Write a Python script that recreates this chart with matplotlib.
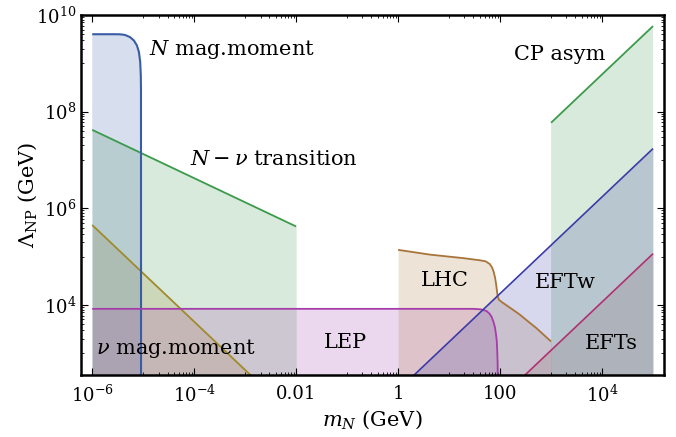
import numpy as np
import matplotlib
matplotlib.use("Agg")
import matplotlib.pyplot as plt
from matplotlib.ticker import FixedLocator, NullFormatter

plt.rcParams['font.family'] = ['DejaVu Serif']
plt.rcParams['mathtext.fontset'] = 'dejavuserif'

# --- bounds (m_N in GeV, Lambda_NP in GeV) ---
nmag_m = [1e-6, 2.5e-6, 3.49e-6, 4.38e-6, 5.48e-6, 6.57e-6, 7.53e-6, 8.24e-6, 8.73e-6, 8.97e-6, 9.05e-6, 9.07e-6]
nmag_L = [4.0e9, 4.0e9, 3.99e9, 3.87e9, 3.5e9, 2.97e9, 2.34e9, 1.72e9, 1.07e9, 5.75e8, 2.8e8, 1e2]

trans_m = [1e-6, 1e-2]
trans_L = [4.2e7, 4.2e5]

numag_m = [1e-6, 1.5e-3]
numag_L = [4.5e5, 3.0e2]

lep_m = [1e-6, 30, 42, 54, 62, 68, 74, 79, 83, 86, 88, 89.5, 90]
lep_L = [8.3e3, 8.3e3, 8.1e3, 7.5e3, 6.6e3, 5.7e3, 4.5e3, 3.5e3, 2.5e3, 1.8e3, 1.1e3, 6e2, 1e2]

lhc_m = [1, 4.2, 19, 40, 52, 63, 70, 75, 80, 84, 87, 90, 95, 110, 134, 180, 244, 350, 518, 720, 1000]
lhc_L = [1.38e5, 1.1e5, 9.3e4, 8.4e4, 8.0e4, 7.0e4, 5.9e4, 4.8e4, 3.6e4, 2.6e4, 1.9e4, 1.5e4, 1.28e4, 1.13e4, 9.8e3, 7.9e3, 6.3e3, 4.6e3, 3.3e3, 2.4e3, 1.75e3]

eftw_m = [1, 1e5]
eftw_L = [1.72e2, 1.72e7]

efts_m = [10, 1e5]
efts_L = [11.5, 1.15e5]

cp_m = [1e3, 1e5]
cp_L = [5.9e7, 5.9e9]

xtick_vals = [1e-6, 1e-4, 1e-2, 1, 1e2, 1e4]
xtick_labels = [r'$10^{-6}$', r'$10^{-4}$', '0.01', '1', '100', r'$10^{4}$']
ytick_vals = [1e4, 1e6, 1e8, 1e10]
ytick_labels = [r'$10^{4}$', r'$10^{6}$', r'$10^{8}$', r'$10^{10}$']

c_nmag = '#3a5ca8'
c_trans = '#3c9a4c'
c_numag = '#a08a2c'
c_lep = '#a43caa'
c_lhc = '#a8743a'
c_eftw = '#3a3aa8'
c_efts = '#b03070'
c_efts_fill = '#8a6a6a'
c_cp = '#3c9a4c'

fig = plt.figure(figsize=(6.76, 4.37), dpi=100)
ax = fig.add_axes([81/676, 1-375/437, (664-81)/676, (375-15)/437])
ax.set_xscale('log')
ax.set_yscale('log')
ax.set_xlim(10**-6.22, 10**5.215)
ax.set_ylim(10**2.55, 1e10)

floor = 1.0
A = 0.2

def band(m, L, line_c, fill_c=None, lw=1.3):
    fill_c = fill_c or line_c
    ax.fill_between(m, floor, L, color=fill_c, alpha=A, lw=0)
    ax.plot(m, L, color=line_c, lw=lw, solid_capstyle='butt', solid_joinstyle='round')

band(trans_m, trans_L, c_trans)
band(numag_m, numag_L, c_numag)
band(nmag_m, nmag_L, c_nmag, lw=1.5)
band(lep_m, lep_L, c_lep)
band(lhc_m, lhc_L, c_lhc)
band(cp_m, cp_L, c_cp)
band(eftw_m, eftw_L, c_eftw, lw=1.2)
band(efts_m, efts_L, c_efts, c_efts_fill, lw=1.2)

fs = 15
ax.text(1.3e-5, 1.9e9, r'$N$ mag.moment', fontsize=fs, ha='left', va='center')
ax.text(8.3e-5, 1.0e7, r'$N-\nu$ transition', fontsize=fs, ha='left', va='center')
ax.text(1.5e3, 1.5e9, 'CP asym', fontsize=fs, ha='center', va='center')
ax.text(8.2, 3.2e4, 'LHC', fontsize=fs, ha='center', va='center')
ax.text(1.9e3, 2.9e4, 'EFTw', fontsize=fs, ha='center', va='center')
ax.text(1.5e4, 1.6e3, 'EFTs', fontsize=fs, ha='center', va='center')
ax.text(0.094, 1.7e3, 'LEP', fontsize=fs, ha='center', va='center')
ax.text(1.2e-6, 1.26e3, r'$\nu$ mag.moment', fontsize=fs, ha='left', va='center')

# ticks
ax.xaxis.set_major_locator(FixedLocator(xtick_vals))
ax.set_xticklabels(xtick_labels)
ax.yaxis.set_major_locator(FixedLocator(ytick_vals))
ax.set_yticklabels(ytick_labels)
xminor = [j * 10.0**k for k in (-5, -3, -1, 1, 3) for j in range(1, 10)]
yminor = [j * 10.0**k for k in (3, 5, 7, 9) for j in range(1, 10)]
ax.xaxis.set_minor_locator(FixedLocator(xminor))
ax.yaxis.set_minor_locator(FixedLocator(yminor))
ax.xaxis.set_minor_formatter(NullFormatter())
ax.yaxis.set_minor_formatter(NullFormatter())
ax.tick_params(which='both', direction='in', top=True, right=True, labelsize=13)
ax.tick_params(which='major', length=5, width=0.8)
ax.tick_params(which='minor', length=2.5, width=0.6)
ax.tick_params(axis='x', pad=7)
for s in ax.spines.values():
    s.set_linewidth(1.8)

ax.set_xlabel(r'$m_N$ (GeV)', fontsize=15, labelpad=2)
ax.set_ylabel(r'$\Lambda_{\rm NP}$ (GeV)', fontsize=15)
ax.yaxis.set_label_coords(-0.072, 0.5)

fig.savefig('out.png', dpi=100)
